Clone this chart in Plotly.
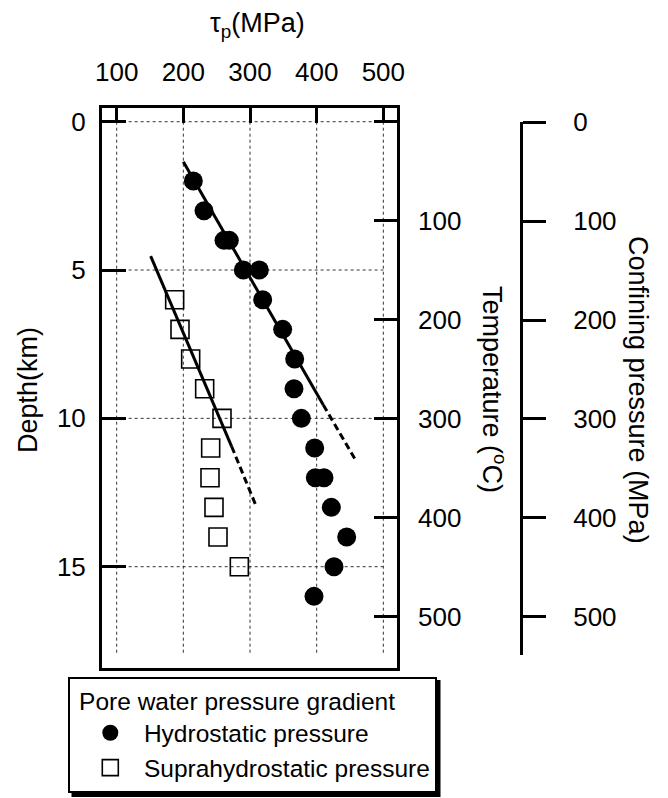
import plotly.graph_objects as go

# ---------------- data ----------------
hydro_tau = [215, 231, 261, 269, 290, 314, 319, 349, 367, 366, 377, 397, 398, 411, 422, 445, 426, 396]
hydro_depth = [2, 3, 4, 4, 5, 5, 6, 7, 8, 9, 10, 11, 12, 12, 13, 14, 15, 16]

supra_tau = [187, 195, 211, 232, 258, 241, 240, 246, 252, 284]
supra_depth = [6, 7, 8, 9, 10, 11, 12, 13, 14, 15]

hydro_fit_tau = [200, 410]
hydro_fit_depth = [1.35, 9.55]
hydro_ext_tau = [410, 459]
hydro_ext_depth = [9.55, 11.43]

supra_fit_tau = [151, 272.5]
supra_fit_depth = [4.53, 10.95]
supra_ext_tau = [272.5, 308.5]
supra_ext_depth = [10.95, 12.92]

tau_ticks = [100, 200, 300, 400, 500]
depth_ticks = [0, 5, 10, 15]
temp_ticks = [0, 100, 200, 300, 400, 500]
temp_labels = ["", "100", "200", "300", "400", "500"]
pres_ticks = [0, 100, 200, 300, 400, 500]

FONT = "Liberation Sans"
W, H = 668, 798
L, R, T, B = 102, 28, 108, 130
PW = W - L - R
PH = H - T - B

fig = go.Figure()

# dotted grid
grid_style = dict(color="#333333", width=1, dash="3px,3px")
for xv in tau_ticks:
    fig.add_trace(go.Scatter(x=[xv, xv], y=[0, 18], mode="lines", line=grid_style,
                             showlegend=False, hoverinfo="skip"))
for dv in depth_ticks:
    fig.add_trace(go.Scatter(x=[tau_ticks[0], tau_ticks[-1]], y=[dv, dv], mode="lines",
                             line=grid_style, showlegend=False, hoverinfo="skip"))

# fit lines
fig.add_trace(go.Scatter(x=hydro_fit_tau, y=hydro_fit_depth, mode="lines",
                         line=dict(color="black", width=3), showlegend=False))
fig.add_trace(go.Scatter(x=hydro_ext_tau, y=hydro_ext_depth, mode="lines",
                         line=dict(color="black", width=3, dash="7px,4px"), showlegend=False))
fig.add_trace(go.Scatter(x=supra_fit_tau, y=supra_fit_depth, mode="lines",
                         line=dict(color="black", width=3), showlegend=False))
fig.add_trace(go.Scatter(x=supra_ext_tau, y=supra_ext_depth, mode="lines",
                         line=dict(color="black", width=3, dash="7px,4px"), showlegend=False))

# markers
fig.add_trace(go.Scatter(x=hydro_tau, y=hydro_depth, mode="markers",
                         name="\u00a0\u00a0Hydrostatic pressure",
                         marker=dict(symbol="circle", size=19, color="black",
                                     line=dict(width=0))))
fig.add_trace(go.Scatter(x=supra_tau, y=supra_depth, mode="markers",
                         name="\u00a0\u00a0Suprahydrostatic pressure",
                         marker=dict(symbol="square-open", size=18, color="black",
                                     line=dict(width=1.6, color="black"))))

# dummy traces to show the extra axes
fig.add_trace(go.Scatter(x=[None], y=[None], yaxis="y2", showlegend=False))
fig.add_trace(go.Scatter(x=[None], y=[None], yaxis="y3", showlegend=False))

tickfont = dict(family=FONT, size=26, color="black")
xdom = (397 - L) / PW

fig.update_layout(
    width=W, height=H,
    margin=dict(l=L, r=R, t=T, b=B, pad=0, autoexpand=False),
    paper_bgcolor="white", plot_bgcolor="rgba(0,0,0,0)",
    font=dict(family=FONT, color="black"),
    xaxis=dict(domain=[0, xdom], range=[78, 520.5], side="top", tickvals=tau_ticks,
               ticks="inside", ticklen=15, tickwidth=3, tickcolor="black",
               showline=True, linewidth=3, linecolor="black", mirror=True,
               showgrid=False, zeroline=False, tickfont=tickfont, ticklabelstandoff=14),
    yaxis=dict(range=[18.415, -0.462], tickvals=depth_ticks,
               ticks="inside", ticklen=24, tickwidth=3, tickcolor="black",
               showline=True, linewidth=3, linecolor="black", mirror=True,
               showgrid=False, zeroline=False, tickfont=tickfont, ticklabelstandoff=8),
    yaxis2=dict(overlaying="y", side="right", range=[551.8, -13.84], tickvals=temp_ticks,
                ticktext=temp_labels,
                ticks="inside", ticklen=23, tickwidth=3, tickcolor="black",
                showline=False, showgrid=False, zeroline=False, tickfont=tickfont,
                ticklabelstandoff=20),
    yaxis3=dict(anchor="free", position=(521 - L) / PW, side="right",
                domain=[(H - B - 655) / PH, (H - B - 122.3) / PH],
                range=[538.7, 0], tickvals=pres_ticks,
                ticks="outside", ticklen=23, tickwidth=3, tickcolor="black",
                showline=True, linewidth=3, linecolor="black",
                showgrid=False, zeroline=False, tickfont=tickfont, ticklabelstandoff=22),
    legend=dict(x=(68.3 - L) / PW, y=(H - B - 676.5) / PH, xanchor="left", yanchor="top",
                bgcolor="white", bordercolor="black", borderwidth=2,
                font=dict(family=FONT, size=24.5, color="black"),
                title=dict(text="\u00a0Pore water pressure gradient",
                           font=dict(family=FONT, size=24.5, color="black")),
                indentation=20, itemsizing="trace"),
    showlegend=True,
)

# legend shadow
fig.add_shape(type="rect", xref="paper", yref="paper",
              x0=(71.5 - L) / PW, x1=(440.5 - L) / PW,
              y0=(H - B - 797) / PH, y1=(H - B - 680) / PH,
              fillcolor="black", line=dict(width=0), layer="below")

ann = dict(xref="paper", yref="paper", showarrow=False,
           font=dict(family=FONT, size=27, color="black"))
fig.add_annotation(text="τ<sub>p</sub>(MPa)", x=(257 - L) / PW, y=(H - B - 25) / PH,
                   xanchor="center", yanchor="middle", **ann)
fig.add_annotation(text="Depth(km)", x=(28 - L) / PW, y=(H - B - 390) / PH,
                   textangle=-90, xanchor="center", yanchor="middle", **ann)
fig.add_annotation(text="Temperature (<sup>o</sup>C)", x=(494 - L) / PW, y=(H - B - 389) / PH,
                   textangle=90, xanchor="center", yanchor="middle", **ann)
fig.add_annotation(text="Confining pressure (MPa)", x=(638 - L) / PW, y=(H - B - 390) / PH,
                   textangle=90, xanchor="center", yanchor="middle", **ann)

fig.write_html("out.html")
